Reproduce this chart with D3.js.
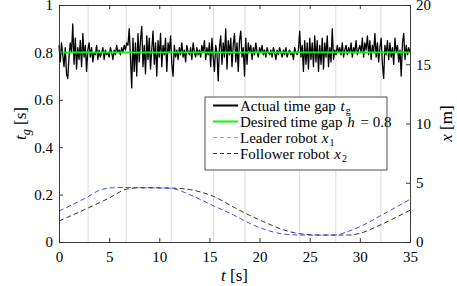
<!DOCTYPE html>
<html>
<head>
<meta charset="utf-8">
<script src="https://cdn.jsdelivr.net/npm/d3@7"></script>
<style>
  body { margin: 0; background: #fff; }
  svg { display: block; }
  svg text { font-family: "Liberation Serif", "DejaVu Serif", serif; fill: #000; }
</style>
</head>
<body>
<svg id="chart" width="457" height="286"></svg>
<script>
// sampled time gap, one value every gapStep seconds from t = 0 to 35
var gapStep = 0.125;
var timeGap = [
  0.83, 0.76, 0.84, 0.79, 0.74, 0.82, 0.71, 0.69,
  0.78, 0.84, 0.80, 0.92, 0.75, 0.86, 0.73, 0.82,
  0.77, 0.85, 0.74, 0.88, 0.78, 0.83, 0.72, 0.81,
  0.84, 0.78, 0.82, 0.76, 0.80, 0.79, 0.83, 0.77,
  0.81, 0.78, 0.80, 0.82, 0.77, 0.81, 0.79, 0.80,
  0.78, 0.82, 0.80, 0.77, 0.81, 0.79, 0.83, 0.80,
  0.81, 0.79, 0.82, 0.80, 0.83, 0.81, 0.84, 0.83,
  0.90, 0.78, 0.65, 0.86, 0.72, 0.84, 0.70, 0.88,
  0.76, 0.85, 0.91, 0.74, 0.83, 0.71, 0.87, 0.77,
  0.86, 0.73, 0.81, 0.89, 0.75, 0.84, 0.70, 0.85,
  0.78, 0.88, 0.74, 0.83, 0.79, 0.86, 0.72, 0.84,
  0.80, 0.87, 0.75, 0.70, 0.83, 0.78, 0.81, 0.77,
  0.82, 0.79, 0.84, 0.78, 0.81, 0.76, 0.83, 0.80,
  0.79, 0.82, 0.77, 0.84, 0.80, 0.78, 0.82, 0.79,
  0.81, 0.78, 0.83, 0.80, 0.85, 0.77, 0.82, 0.79,
  0.84, 0.74, 0.86, 0.78, 0.72, 0.83, 0.80, 0.68,
  0.82, 0.87, 0.75, 0.84, 0.78, 0.90, 0.73, 0.85,
  0.79, 0.86, 0.74, 0.83, 0.88, 0.76, 0.84, 0.72,
  0.85, 0.89, 0.78, 0.82, 0.70, 0.86, 0.75, 0.84,
  0.80, 0.83, 0.77, 0.82, 0.79, 0.84, 0.80, 0.78,
  0.82, 0.80, 0.83, 0.79, 0.81, 0.78, 0.82, 0.80,
  0.79, 0.81, 0.78, 0.82, 0.80, 0.77, 0.81, 0.79,
  0.82, 0.80, 0.78, 0.81, 0.79, 0.82, 0.78, 0.80,
  0.81, 0.79, 0.80, 0.77, 0.82, 0.80, 0.79, 0.81,
  0.89, 0.78, 0.83, 0.72, 0.85, 0.75, 0.84, 0.73,
  0.86, 0.77, 0.84, 0.74, 0.87, 0.76, 0.85, 0.72,
  0.83, 0.75, 0.86, 0.73, 0.84, 0.78, 0.87, 0.74,
  0.82, 0.76, 0.90, 0.77, 0.81, 0.79, 0.83, 0.80,
  0.82, 0.79, 0.84, 0.78, 0.81, 0.83, 0.79, 0.82,
  0.80, 0.84, 0.78, 0.82, 0.80, 0.85, 0.79, 0.81,
  0.83, 0.80, 0.86, 0.78, 0.84, 0.81, 0.87, 0.79,
  0.85, 0.77, 0.83, 0.80, 0.88, 0.78, 0.84, 0.76,
  0.82, 0.86, 0.75, 0.69, 0.83, 0.79, 0.85, 0.77,
  0.84, 0.78, 0.82, 0.75, 0.86, 0.80, 0.83, 0.76,
  0.81, 0.70, 0.84, 0.88, 0.77, 0.83, 0.79, 0.82,
  0.80
];
var desiredGap = 0.8;

// robot positions [m]
var leaderT = [0, 1.5, 2.9, 4.1, 5.4, 6.5, 8, 10, 11.2, 12, 13.1, 14.2, 15.4, 17.4, 19, 20.7, 22.3, 24, 26, 27.6, 28.5, 30, 32, 35];
var leaderX = [2.62, 3.22, 3.82, 4.39, 4.58, 4.60, 4.58, 4.56, 4.53, 4.35, 3.97, 3.55, 3.06, 2.28, 1.58, 1.01, 0.68, 0.59, 0.58, 0.59, 0.80, 1.29, 2.19, 3.60];
var followerT = [0, 2.9, 5, 6.7, 8, 10, 12, 13.1, 14.2, 15.4, 17.4, 19, 20.7, 22.3, 24, 26, 29, 30, 32, 35];
var followerX = [1.77, 2.87, 3.71, 4.45, 4.58, 4.57, 4.52, 4.42, 4.20, 3.85, 2.95, 2.25, 1.60, 1.05, 0.70, 0.59, 0.59, 0.73, 1.43, 2.68];

// grey event markers [s]
var eventTimes = [2.9, 6.7, 11.2, 15.4, 18.55, 24.0, 27.6, 32.1];

var xTicks = [0, 5, 10, 15, 20, 25, 30, 35];
var yLeftTicks = [0, 0.2, 0.4, 0.6, 0.8, 1];
var yRightTicks = [0, 5, 10, 15, 20];

var serif = '"Liberation Serif", "DejaVu Serif", serif';
var svg = d3.select('#chart');
var plotLeft = 59, plotRight = 410, plotTop = 5, plotBottom = 242;

var x = d3.scaleLinear().domain([0, 35]).range([plotLeft, plotRight]);
var yL = d3.scaleLinear().domain([0, 1]).range([plotBottom, plotTop]);
var yR = d3.scaleLinear().domain([0, 20]).range([plotBottom, plotTop]);

// event lines
svg.append('g').selectAll('line').data(eventTimes).enter().append('line')
    .attr('x1', function(d) { return x(d); })
    .attr('x2', function(d) { return x(d); })
    .attr('y1', plotTop).attr('y2', plotBottom)
    .attr('stroke', '#dcdcdc').attr('stroke-width', 1);

// position curves (right axis)
var posLine = d3.line()
    .x(function(d) { return x(d[0]); })
    .y(function(d) { return yR(d[1]); })
    .curve(d3.curveMonotoneX);

svg.append('path')
    .datum(d3.zip(followerT, followerX))
    .attr('d', posLine)
    .attr('fill', 'none').attr('stroke', '#000')
    .attr('stroke-width', 0.8).attr('stroke-dasharray', '5,3');

svg.append('path')
    .datum(d3.zip(leaderT, leaderX))
    .attr('d', posLine)
    .attr('fill', 'none').attr('stroke', '#1a1aff')
    .attr('stroke-width', 0.8).attr('stroke-dasharray', '5,3');

// time gap
var gapLine = d3.line()
    .x(function(d, i) { return x(i * gapStep); })
    .y(function(d) { return yL(d); });

svg.append('path')
    .datum(timeGap)
    .attr('d', gapLine)
    .attr('fill', 'none').attr('stroke', '#000')
    .attr('stroke-width', 1.3).attr('stroke-linejoin', 'round');

svg.append('line')
    .attr('x1', x(0)).attr('x2', x(35))
    .attr('y1', yL(desiredGap)).attr('y2', yL(desiredGap))
    .attr('stroke', '#00ff00').attr('stroke-width', 1.6);

// axes
function styleAxis(g) {
    g.attr('font-family', serif);
    g.selectAll('path, line').attr('stroke', '#262626').attr('stroke-width', 0.9);
    g.selectAll('text').attr('font-size', 15).style('font-family', serif).attr('fill', '#000');
}

svg.append('g').attr('transform', 'translate(0,' + plotBottom + ')')
    .call(d3.axisBottom(x).tickValues(xTicks).tickSizeInner(-4).tickSizeOuter(0).tickPadding(9))
    .call(styleAxis);

svg.append('g').attr('transform', 'translate(0,' + plotTop + ')')
    .call(d3.axisTop(x).tickValues(xTicks).tickSizeInner(-4).tickSizeOuter(0).tickFormat(''))
    .call(styleAxis);

svg.append('g').attr('transform', 'translate(' + plotLeft + ',0)')
    .call(d3.axisLeft(yL).tickValues(yLeftTicks).tickSizeInner(-4).tickSizeOuter(0).tickPadding(6)
        .tickFormat(d3.format('~g')))
    .call(styleAxis);

svg.append('g').attr('transform', 'translate(' + plotRight + ',0)')
    .call(d3.axisRight(yR).tickValues(yRightTicks).tickSizeInner(-4).tickSizeOuter(0).tickPadding(6))
    .call(styleAxis);

// axis titles
var xt = svg.append('text').attr('x', (plotLeft + plotRight) / 2).attr('y', 281)
    .attr('text-anchor', 'middle').attr('font-size', 17).style('font-family', serif);
xt.append('tspan').attr('font-style', 'italic').text('t');
xt.append('tspan').text(' [s]');

var ylt = svg.append('text')
    .attr('transform', 'translate(26,' + ((plotTop + plotBottom) / 2) + ') rotate(-90)')
    .attr('text-anchor', 'middle').attr('font-size', 17).style('font-family', serif);
ylt.append('tspan').attr('font-style', 'italic').text('t');
ylt.append('tspan').attr('font-style', 'italic').attr('font-size', 12).attr('dy', 4).text('g');
ylt.append('tspan').attr('dy', -4).text(' [s]');

var yrt = svg.append('text')
    .attr('transform', 'translate(452,' + ((plotTop + plotBottom) / 2) + ') rotate(-90)')
    .attr('text-anchor', 'middle').attr('font-size', 17).style('font-family', serif);
yrt.append('tspan').attr('font-style', 'italic').text('x');
yrt.append('tspan').text(' [m]');

// legend
var legendItems = [
    { label: 'Actual time gap ', math: 't', sub: 'g', color: '#000', width: 2, dash: null },
    { label: 'Desired time gap ', math: 'h', tail: ' = 0.8', color: '#00ff00', width: 2, dash: null },
    { label: 'Leader robot ', math: 'x', sub: '1', color: '#9a9aff', width: 1, dash: '4,3' },
    { label: 'Follower robot ', math: 'x', sub: '2', color: '#000', width: 0.8, dash: '4,3' }
];

var lg = svg.append('g');
lg.append('rect')
    .attr('x', 205).attr('y', 97).attr('width', 182).attr('height', 73)
    .attr('fill', '#fff').attr('stroke', '#262626').attr('stroke-width', 0.8);

var rows = lg.selectAll('g.row').data(legendItems).enter().append('g')
    .attr('transform', function(d, i) { return 'translate(0,' + (105.5 + i * 16) + ')'; });

rows.append('line')
    .attr('x1', 213).attr('x2', 238).attr('y1', 0).attr('y2', 0)
    .attr('stroke', function(d) { return d.color; })
    .attr('stroke-width', function(d) { return d.width; })
    .attr('stroke-dasharray', function(d) { return d.dash; });

rows.each(function(d) {
    var t = d3.select(this).append('text').attr('x', 240).attr('y', 5)
        .attr('font-size', 15).style('font-family', serif);
    t.append('tspan').text(d.label);
    t.append('tspan').attr('font-style', 'italic').attr('dx', 1).text(d.math);
    if (d.sub) {
        t.append('tspan').attr('font-size', 10).attr('dx', 1).attr('dy', 3).text(d.sub);
    }
    if (d.tail) {
        t.append('tspan').attr('dx', 2).text(d.tail);
    }
});
</script>
</body>
</html>
